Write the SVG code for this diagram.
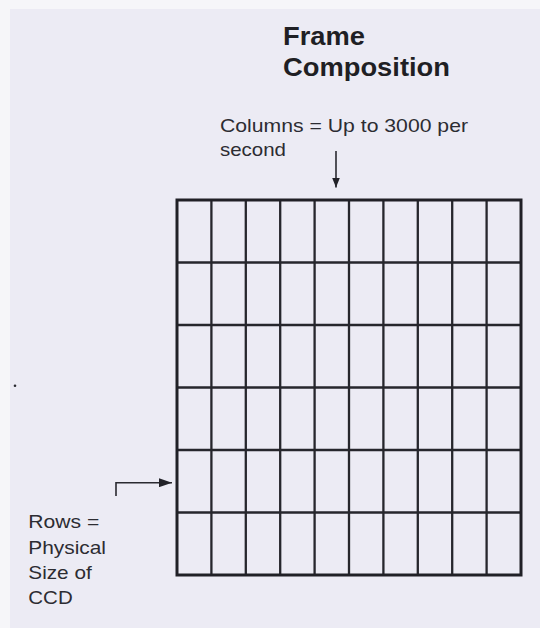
<svg xmlns="http://www.w3.org/2000/svg" width="540" height="628" viewBox="0 0 540 628">
  <defs>
    <style>
      .lbl { font-family: "Liberation Sans", Arial, sans-serif; font-size: 19px; fill: #2c2c32; }
      .ttl { font-family: "Liberation Sans", Arial, sans-serif; font-size: 25px; font-weight: bold; fill: #1f1f24; }
      .grid { fill: none; stroke: #26262c; stroke-width: 2.3; }
      .frame { fill: none; stroke: #202026; stroke-width: 3; }
      .conn { fill: none; stroke: #2a2a30; stroke-width: 1.6; }
    </style>
    <marker id="ah" viewBox="0 0 10 8" refX="10" refY="4" markerWidth="10" markerHeight="8" markerUnits="userSpaceOnUse" orient="auto">
      <path d="M0,0 L10,4 L0,8 Z" fill="#222228"/>
    </marker>
    <marker id="ahl" viewBox="0 0 13 9" refX="13" refY="4.5" markerWidth="13" markerHeight="9" markerUnits="userSpaceOnUse" orient="auto">
      <path d="M0,0 L13,4.5 L0,9 Z" fill="#222228"/>
    </marker>
  </defs>
  <rect x="0" y="0" width="540" height="628" fill="#f6f6f9"/>
  <rect x="10" y="9" width="530" height="619" fill="#ecebf4"/>

  <g id="title">
    <text class="ttl" x="283" y="45" textLength="82" lengthAdjust="spacingAndGlyphs">Frame</text>
    <text class="ttl" x="283" y="76" textLength="167" lengthAdjust="spacingAndGlyphs">Composition</text>
  </g>

  <g id="columns-label">
    <text class="lbl" x="220" y="131.7" textLength="248" lengthAdjust="spacingAndGlyphs">Columns = Up to 3000 per</text>
    <text class="lbl" x="220" y="156" textLength="66" lengthAdjust="spacingAndGlyphs">second</text>
  </g>

  <g id="rows-label">
    <text class="lbl" x="28.3" y="528.3" textLength="71" lengthAdjust="spacingAndGlyphs">Rows =</text>
    <text class="lbl" x="28.3" y="554" textLength="77.7" lengthAdjust="spacingAndGlyphs">Physical</text>
    <text class="lbl" x="28.3" y="579.3" textLength="63.4" lengthAdjust="spacingAndGlyphs">Size of</text>
    <text class="lbl" x="28.3" y="604" textLength="44.4" lengthAdjust="spacingAndGlyphs">CCD</text>
  </g>

  <g id="frame-grid">
    <path class="grid" d="M211.4,200 V575 M245.8,200 V575 M280.2,200 V575 M314.6,200 V575 M349,200 V575 M383.4,200 V575 M417.8,200 V575 M452.2,200 V575 M486.6,200 V575
      M177,262.5 H521 M177,325 H521 M177,387.5 H521 M177,450 H521 M177,512.5 H521"/>
    <rect class="frame" x="177" y="200" width="344" height="375"/>
  </g>

  <g id="dot">
    <circle cx="15" cy="385.7" r="1.3" fill="#2a2a30"/>
  </g>

  <g id="connectors">
    <path class="conn" d="M336,151 V187.5" marker-end="url(#ah)"/>
    <path class="conn" d="M116,496 V482.7 H172" marker-end="url(#ahl)"/>
  </g>
</svg>
